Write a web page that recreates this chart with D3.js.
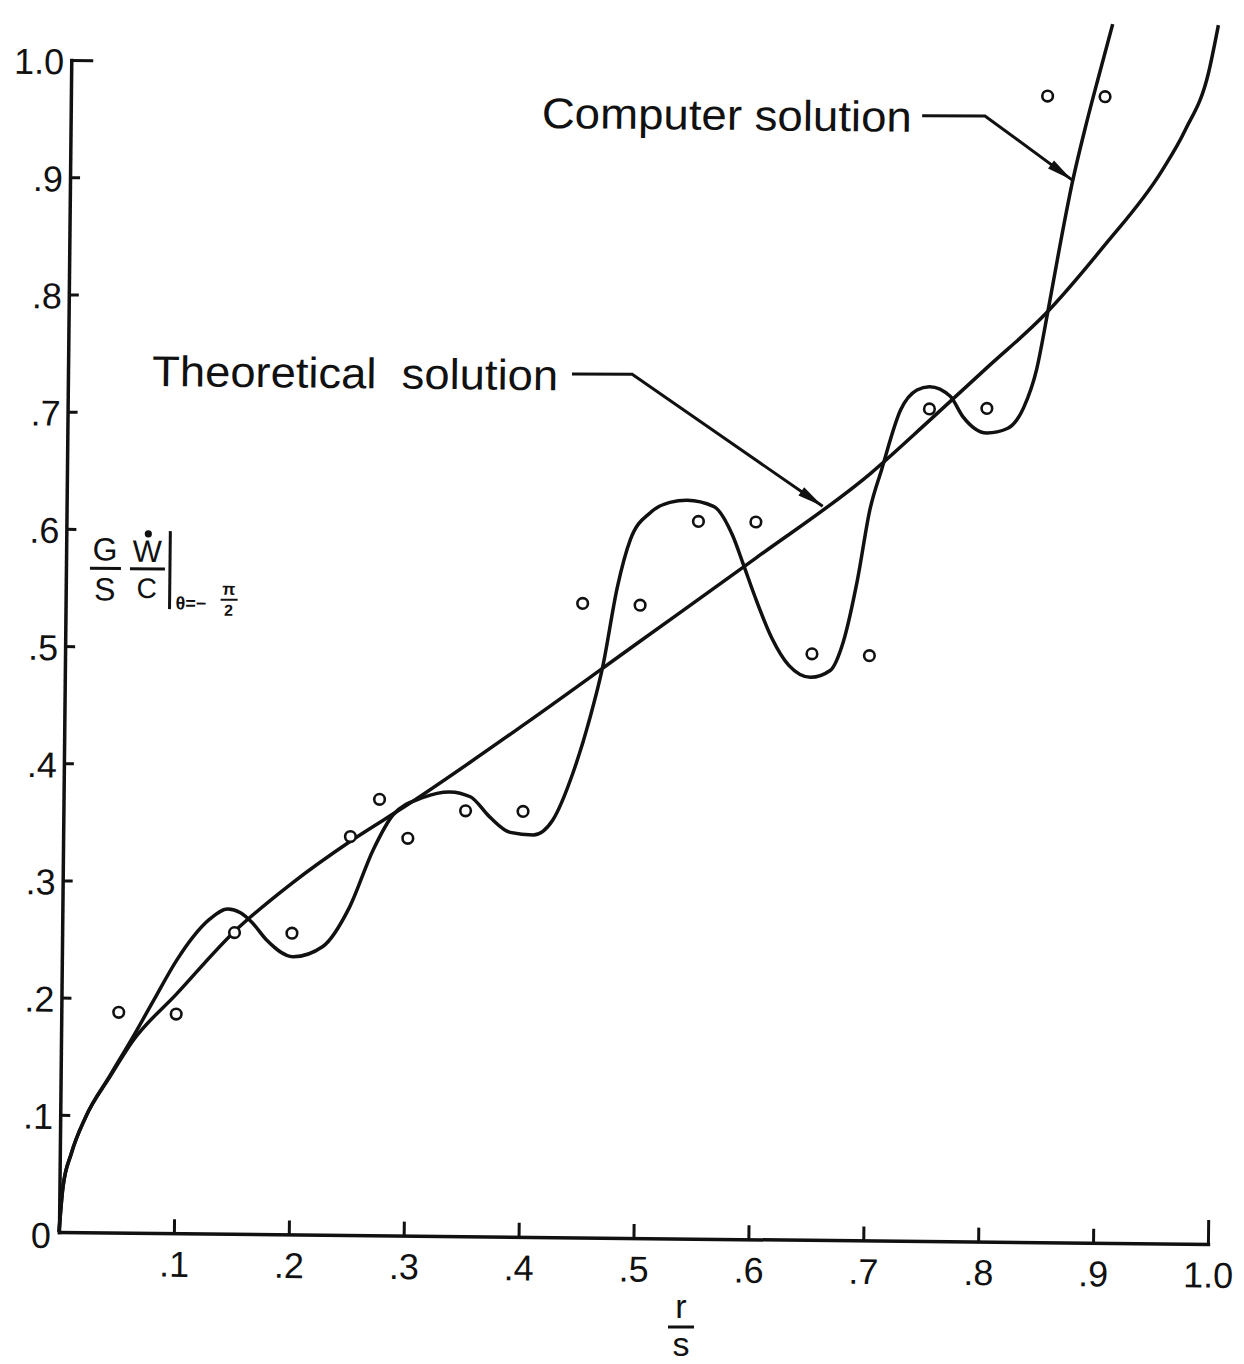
<!DOCTYPE html>
<html><head><meta charset="utf-8">
<script src="https://cdn.jsdelivr.net/npm/d3@7"></script>
<style>html,body{margin:0;padding:0;background:#fff}</style>
</head><body>
<svg id="c" width="1244" height="1364"></svg>
<script>
// ---------- data ----------
const xTicks = [0.1,0.2,0.3,0.4,0.5,0.6,0.7,0.8,0.9,1.0];
const xTickLabels = [".1",".2",".3",".4",".5",".6",".7",".8",".9","1.0"];
const yTicks = [0.1,0.2,0.3,0.4,0.5,0.6,0.7,0.8,0.9,1.0];
const yTickLabels = [".1",".2",".3",".4",".5",".6",".7",".8",".9","1.0"];

// open circles (r/s, value)
const pointX = [0.05,0.10,0.15,0.20,0.25,0.275,0.30,0.35,0.40,0.45,0.50,0.55,0.60,0.65,0.70,0.75,0.80,0.85,0.90];
const pointY = [0.188,0.187,0.257,0.257,0.340,0.372,0.339,0.363,0.363,0.541,0.540,0.612,0.612,0.500,0.499,0.710,0.711,0.978,0.978];

// Theoretical solution
const theoryX = [0,0.003,0.01,0.022,0.043,0.062,0.1,0.15,0.2,0.25,0.3,0.4,0.5,0.6,0.7,0.75,0.8,0.85,0.9,0.95,0.97,0.99,0.998];
const theoryY = [0,0.038,0.067,0.098,0.133,0.163,0.204,0.258,0.300,0.336,0.368,0.437,0.509,0.581,0.655,0.700,0.746,0.792,0.850,0.915,0.950,1.000,1.040];

// Computer solution
const computerX = [0,0.003,0.01,0.022,0.043,0.062,0.08,0.1,0.114,0.128,0.144,0.155,0.165,0.178,0.201,0.227,0.250,0.270,0.287,0.313,0.336,0.354,0.371,0.389,0.409,0.426,0.443,0.457,0.468,0.480,0.491,0.508,0.525,0.540,0.563,0.580,0.589,0.600,0.615,0.630,0.649,0.666,0.677,0.689,0.699,0.709,0.725,0.739,0.750,0.768,0.779,0.800,0.818,0.832,0.843,0.852,0.862,0.872,0.884,0.895,0.906];
const computerY = [0,0.038,0.067,0.098,0.134,0.166,0.198,0.233,0.253,0.268,0.277,0.274,0.266,0.251,0.237,0.246,0.280,0.329,0.359,0.374,0.379,0.375,0.358,0.345,0.343,0.356,0.396,0.442,0.487,0.555,0.596,0.619,0.628,0.630,0.625,0.600,0.577,0.548,0.513,0.490,0.480,0.486,0.510,0.564,0.623,0.658,0.709,0.726,0.729,0.721,0.704,0.690,0.694,0.712,0.745,0.793,0.850,0.903,0.955,0.998,1.040];

// ---------- drawing ----------
const ink = "#111";
const font = "'Liberation Sans', Arial, sans-serif";
const svg = d3.select("#c");
svg.append("rect").attr("width",1244).attr("height",1364).attr("fill","#fff");

const x = d3.scaleLinear().domain([0,1]).range([59,1208]);
const y = d3.scaleLinear().domain([0,1]).range([1232,60]);

// the scanned figure is turned slightly clockwise
const g = svg.append("g").attr("transform",`rotate(0.6,${x(0)},${y(0)})`);

// x axis
const xAxis = d3.axisBottom(x).tickValues(xTicks)
  .tickFormat((d,i)=>xTickLabels[i]).tickSizeInner(-14).tickSizeOuter(0).tickPadding(18);
const gx = g.append("g").attr("transform",`translate(0,${y(0)})`).call(xAxis)
  .attr("font-size",null).attr("font-family",null);
gx.select(".domain").attr("stroke",ink).attr("stroke-width",3.5).attr("stroke-linecap","square");
gx.selectAll(".tick line").attr("stroke",ink).attr("stroke-width",3).attr("y2",d=>d===1?-24:-14);
gx.selectAll(".tick text").attr("fill",ink).attr("font-size",36).attr("font-family",font);

// y axis
const yAxis = d3.axisLeft(y).tickValues(yTicks)
  .tickFormat((d,i)=>yTickLabels[i]).tickSizeInner(-10).tickSizeOuter(0).tickPadding(7);
const gy = g.append("g").attr("transform",`translate(${x(0)},0)`).call(yAxis)
  .attr("font-size",null).attr("font-family",null);
gy.select(".domain").attr("stroke",ink).attr("stroke-width",3.5).attr("stroke-linecap","square");
gy.selectAll(".tick line").attr("stroke",ink).attr("stroke-width",3).attr("x2",d=>d===1?22:10);
gy.selectAll(".tick text").attr("fill",ink).attr("font-size",36).attr("font-family",font).attr("dy","0.38em");

// origin label
g.append("text").attr("x",x(0)-8).attr("y",y(0)+16).attr("text-anchor","end")
  .attr("font-size",36).attr("font-family",font).attr("fill",ink).text("0");

// curves
const line = d3.line().x(d=>x(d[0])).y(d=>y(d[1])).curve(d3.curveMonotoneX);
g.append("path").datum(d3.zip(theoryX,theoryY)).attr("d",line)
  .attr("fill","none").attr("stroke",ink).attr("stroke-width",3.5).attr("stroke-linejoin","round");
g.append("path").datum(d3.zip(computerX,computerY)).attr("d",line)
  .attr("fill","none").attr("stroke",ink).attr("stroke-width",3.5).attr("stroke-linejoin","round");

// circles
g.selectAll("circle.pt").data(d3.zip(pointX,pointY)).join("circle").attr("class","pt")
  .attr("cx",d=>x(d[0])).attr("cy",d=>y(d[1])).attr("r",5.3)
  .attr("fill","#fff").attr("stroke",ink).attr("stroke-width",2.6);

// annotations with leaders
function leader(pts){
  const p = pts.map(d=>[x(d[0]),y(d[1])]);
  g.append("path").attr("d","M"+p.map(q=>q.join(",")).join("L"))
    .attr("fill","none").attr("stroke",ink).attr("stroke-width",3);
  const a=p[p.length-2], b=p[p.length-1];
  const dx=b[0]-a[0], dy=b[1]-a[1], L=Math.hypot(dx,dy), ux=dx/L, uy=dy/L;
  const len=26, w=5;
  const bx=b[0]-ux*len, by=b[1]-uy*len;
  g.append("path").attr("d",`M${b[0]},${b[1]}L${bx-uy*w},${by+ux*w}L${bx+uy*w},${by-ux*w}Z`).attr("fill",ink);
}
g.append("text").attr("x",x(0.410)).attr("y",y(0.9463)).attr("font-size",43).attr("font-family",font)
  .attr("fill",ink).attr("textLength",370).attr("lengthAdjust","spacingAndGlyphs").text("Computer solution");
leader([[0.741,0.960],[0.7957,0.9605],[0.872,0.9067]]);

g.append("text").attr("x",x(0.0732)).attr("y",y(0.7227)).attr("font-size",43).attr("font-family",font)
  .attr("fill",ink).attr("textLength",406).attr("lengthAdjust","spacingAndGlyphs").attr("xml:space","preserve")
  .text("Theoretical  solution");
leader([[0.4386,0.7367],[0.491,0.737],[0.658,0.626]]);

// y-axis label  (G/S)(W-dot/C)|θ=-π/2
const ly = g.append("g").attr("fill",ink).attr("font-family",font);
const L0 = x(0);
ly.append("text").attr("x",L0+39).attr("y",560).attr("text-anchor","middle").attr("font-size",32).text("G");
ly.append("text").attr("x",L0+39).attr("y",600).attr("text-anchor","middle").attr("font-size",32).text("S");
ly.append("text").attr("x",L0+81).attr("y",561).attr("text-anchor","middle").attr("font-size",31).text("W");
ly.append("text").attr("x",L0+81).attr("y",597).attr("text-anchor","middle").attr("font-size",28).text("C");
ly.append("circle").attr("cx",L0+82).attr("cy",533).attr("r",3.6);
ly.append("line").attr("x1",L0+24).attr("x2",L0+55).attr("y1",568).attr("y2",568).attr("stroke",ink).attr("stroke-width",3);
ly.append("line").attr("x1",L0+64).attr("x2",L0+99).attr("y1",568).attr("y2",568).attr("stroke",ink).attr("stroke-width",3);
ly.append("line").attr("x1",L0+104).attr("x2",L0+104).attr("y1",530).attr("y2",608).attr("stroke",ink).attr("stroke-width",3);
ly.append("text").attr("x",L0+110).attr("y",608).attr("font-size",18).attr("font-weight","bold").text("θ=−");
ly.append("text").attr("x",L0+163).attr("y",593).attr("text-anchor","middle").attr("font-size",17).attr("font-weight","bold").text("π");
ly.append("line").attr("x1",L0+155).attr("x2",L0+172).attr("y1",598).attr("y2",598).attr("stroke",ink).attr("stroke-width",2);
ly.append("text").attr("x",L0+163).attr("y",614).attr("text-anchor","middle").attr("font-size",16).attr("font-weight","bold").text("2");

// x-axis label r/s (placed in page coordinates, below the axis)
const lx = svg.append("g").attr("fill",ink).attr("font-family",font);
const cx = 681;
lx.append("text").attr("x",cx).attr("y",1318).attr("text-anchor","middle").attr("font-size",34).text("r");
lx.append("line").attr("x1",cx-13).attr("x2",cx+13).attr("y1",1327).attr("y2",1327).attr("stroke",ink).attr("stroke-width",3);
lx.append("text").attr("x",cx).attr("y",1356).attr("text-anchor","middle").attr("font-size",34).text("s");
</script>
</body></html>
